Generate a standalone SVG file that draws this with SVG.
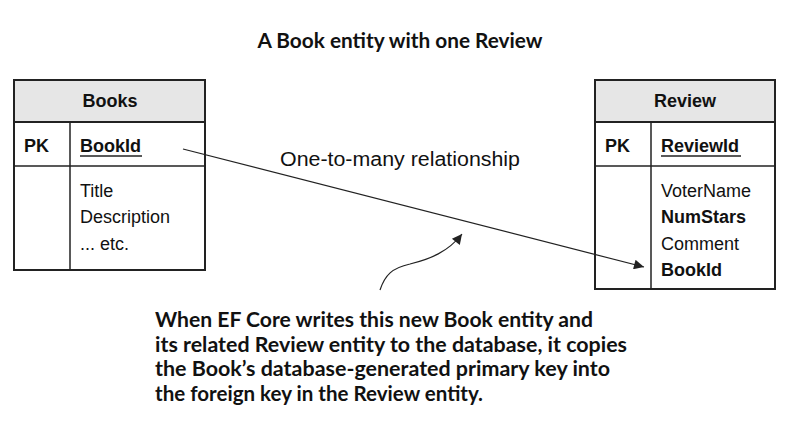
<svg xmlns="http://www.w3.org/2000/svg" width="799" height="427" viewBox="0 0 799 427">
<style>
.box{fill:#fff;stroke:#222;stroke-width:2}
.hdr{fill:#e6e6e6;stroke:#222;stroke-width:2}
.ln{stroke:#222;stroke-width:1.5;fill:none}
.t{font-family:"Liberation Sans",Arial,sans-serif;font-size:18px;fill:#111}
.b{font-weight:bold}
.cap{font-family:Lato,"Liberation Sans",sans-serif;font-weight:bold;font-size:20px;fill:#111}
.conn{stroke:#222;stroke-width:1.2;fill:none}
</style>
<defs>
<marker id="ah" viewBox="0 0 10 10" refX="10" refY="5" markerWidth="16" markerHeight="10" markerUnits="userSpaceOnUse" orient="auto"><path d="M0,0 L10,5 L0,10 z" fill="#222"/></marker>
</defs>
<rect width="799" height="427" fill="#fff"/>
<text class="cap" x="400" y="48" text-anchor="middle" textLength="285" lengthAdjust="spacingAndGlyphs">A Book entity with one Review</text>
<g id="books">
<rect class="box" x="14" y="80" width="191" height="190"/>
<rect class="hdr" x="14" y="80" width="191" height="42"/>
<line class="ln" x1="14" y1="166" x2="205" y2="166"/>
<line class="ln" x1="70" y1="122" x2="70" y2="270"/>
<text class="t b" x="110" y="107" text-anchor="middle">Books</text>
<text class="t b" x="24" y="152">PK</text>
<text class="t b" x="80" y="152">BookId</text>
<line class="ln" x1="80" y1="156" x2="142" y2="156"/>
<text class="t" x="80" y="197">Title</text>
<text class="t" x="80" y="223">Description</text>
<text class="t" x="80" y="250">... etc.</text>
</g>
<g id="review">
<rect class="box" x="595" y="80" width="180" height="209"/>
<rect class="hdr" x="595" y="80" width="180" height="42"/>
<line class="ln" x1="595" y1="166" x2="775" y2="166"/>
<line class="ln" x1="651" y1="122" x2="651" y2="289"/>
<text class="t b" x="685" y="107" text-anchor="middle">Review</text>
<text class="t b" x="605" y="152">PK</text>
<text class="t b" x="661" y="152">ReviewId</text>
<line class="ln" x1="661" y1="156" x2="741" y2="156"/>
<text class="t" x="661" y="197">VoterName</text>
<text class="t b" x="661" y="223">NumStars</text>
<text class="t" x="661" y="250">Comment</text>
<text class="t b" x="661" y="276">BookId</text>
</g>
<g id="connectors">
<line class="conn" x1="183" y1="149" x2="644" y2="267" marker-end="url(#ah)"/>
<text class="t" x="280" y="166" style="font-size:20px" textLength="240" lengthAdjust="spacingAndGlyphs">One-to-many relationship</text>
<path class="conn" d="M380,290 C385,275 392,268 410,264 C430,259 448,252 462,234" marker-end="url(#ah)"/>
</g>
<g id="note">
<text class="cap" x="155" y="327" textLength="438" lengthAdjust="spacingAndGlyphs">When EF Core writes this new Book entity and</text>
<text class="cap" x="155" y="352" textLength="472" lengthAdjust="spacingAndGlyphs">its related Review entity to the database, it copies</text>
<text class="cap" x="155" y="376" textLength="455" lengthAdjust="spacingAndGlyphs">the Book’s database-generated primary key into</text>
<text class="cap" x="155" y="401" textLength="328" lengthAdjust="spacingAndGlyphs">the foreign key in the Review entity.</text>
</g>
</svg>
